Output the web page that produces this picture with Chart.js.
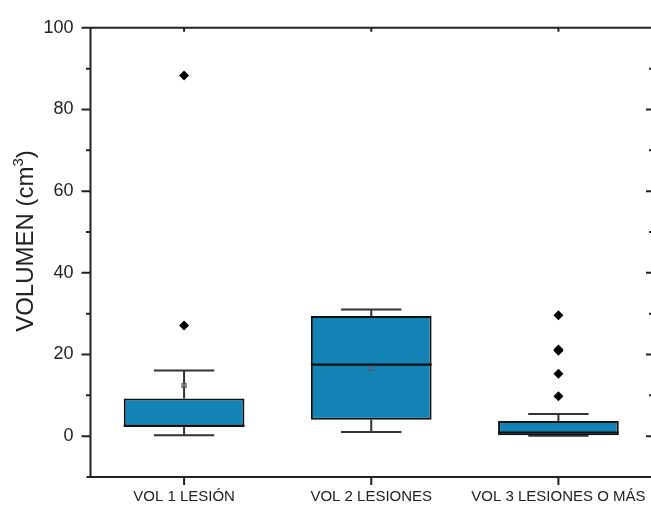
<!DOCTYPE html>
<html>
<head>
<meta charset="utf-8">
<script src="https://cdn.jsdelivr.net/npm/chart.js@4/dist/chart.umd.min.js"></script>
<style>
  html, body { margin: 0; padding: 0; overflow: hidden; background: #fff; }
  canvas { display: block; }
</style>
</head>
<body>
<canvas id="c" width="660" height="509"></canvas>
<script>
// Volume per group (cm³): box-and-whisker statistics
const categories   = ['VOL 1 LESIÓN', 'VOL 2 LESIONES', 'VOL 3 LESIONES O MÁS'];
const q1           = [2.3, 4.0, 0.2];
const q3           = [9.2, 29.4, 3.7];
const medians      = [2.5, 17.5, 0.9];
const whiskerLow   = [0.2, 1.0, 0.1];
const whiskerHigh  = [16.1, 31.0, 5.4];
const means        = [12.4, 16.6, null];
const outliersVol1 = [88.3, 27.1];
const outliersVol2 = [];
const outliersVol3 = [29.6, 21.2, 20.9, 15.3, 9.8];
const yMajorTicks  = [0, 20, 40, 60, 80, 100];
const yMinorTicks  = [10, 30, 50, 70, 90];

const outlierGroups = [outliersVol1, outliersVol2, outliersVol3];
const outlierPoints = [];
outlierGroups.forEach((vals, i) => vals.forEach(v => outlierPoints.push({ x: categories[i], y: v })));
const meanPoints = [];
means.forEach((v, i) => { if (v !== null) meanPoints.push({ x: categories[i], y: v }); });

const FONT = "'Liberation Sans', Arial, sans-serif";
const AXIS = '#222';

// whiskers + caps (under the boxes), medians on top of the boxes
const whiskerPlugin = {
  id: 'whiskers',
  beforeDatasetsDraw(chart) {
    const { ctx, scales: { x, y } } = chart;
    const bars = chart.getDatasetMeta(0).data;
    ctx.save();
    ctx.strokeStyle = '#333';
    ctx.lineWidth = 2;
    categories.forEach((c, i) => {
      const px = x.getPixelForValue(i);
      const half = bars[i].width / 4;
      ctx.beginPath();
      ctx.moveTo(px, y.getPixelForValue(q1[i]));
      ctx.lineTo(px, y.getPixelForValue(whiskerLow[i]));
      ctx.moveTo(px, y.getPixelForValue(q3[i]));
      ctx.lineTo(px, y.getPixelForValue(whiskerHigh[i]));
      [whiskerLow[i], whiskerHigh[i]].forEach(v => {
        const py = y.getPixelForValue(v);
        ctx.moveTo(px - half, py);
        ctx.lineTo(px + half, py);
      });
      ctx.stroke();
    });
    ctx.restore();
  },
  afterDatasetDraw(chart, args) {
    if (args.index !== 0) return;
    const { ctx, scales: { x, y } } = chart;
    const bars = chart.getDatasetMeta(0).data;
    ctx.save();
    ctx.strokeStyle = '#111';
    ctx.lineWidth = 2.2;
    categories.forEach((c, i) => {
      const px = x.getPixelForValue(i);
      const half = bars[i].width / 2;
      const py = y.getPixelForValue(medians[i]);
      ctx.beginPath();
      ctx.moveTo(px - half, py);
      ctx.lineTo(px + half, py);
      ctx.stroke();
    });
    ctx.restore();
  }
};

// frame on four sides with tick marks, plus the rotated y title
const framePlugin = {
  id: 'frame',
  afterDraw(chart) {
    const { ctx, chartArea: a, scales: { x, y } } = chart;
    ctx.save();
    ctx.strokeStyle = AXIS;
    ctx.lineWidth = 2;
    ctx.beginPath();
    ctx.moveTo(a.left - 9, a.top); ctx.lineTo(a.right, a.top);
    ctx.moveTo(a.left, a.top); ctx.lineTo(a.left, a.bottom);
    ctx.moveTo(a.left - 4, a.bottom); ctx.lineTo(a.right, a.bottom);
    ctx.moveTo(a.right, a.top); ctx.lineTo(a.right, a.bottom);
    yMajorTicks.forEach(v => {
      const py = y.getPixelForValue(v);
      ctx.moveTo(a.left - 9, py); ctx.lineTo(a.left, py);
      ctx.moveTo(a.right - 6, py); ctx.lineTo(a.right, py);
    });
    yMinorTicks.forEach(v => {
      const py = y.getPixelForValue(v);
      ctx.moveTo(a.left - 4.5, py); ctx.lineTo(a.left, py);
      ctx.moveTo(a.right - 3, py); ctx.lineTo(a.right, py);
    });
    categories.forEach((c, i) => {
      const px = x.getPixelForValue(i);
      ctx.moveTo(px, a.bottom); ctx.lineTo(px, a.bottom + 8);
      ctx.moveTo(px, a.top); ctx.lineTo(px, a.top + 4);
    });
    ctx.stroke();

    // y axis title: VOLUMEN (cm³)
    const big = '24px ' + FONT, small = '15px ' + FONT;
    const p1 = 'VOLUMEN (cm', p2 = '3', p3 = ')';
    ctx.font = big; const w1 = ctx.measureText(p1).width, w3 = ctx.measureText(p3).width;
    ctx.font = small; const w2 = ctx.measureText(p2).width;
    const total = w1 + w2 + w3;
    ctx.translate(24, 241);
    ctx.rotate(-Math.PI / 2);
    ctx.fillStyle = AXIS;
    ctx.textBaseline = 'alphabetic';
    ctx.textAlign = 'left';
    let sx = -total / 2;
    const base = 8.5;
    ctx.font = big; ctx.fillText(p1, sx, base); sx += w1;
    ctx.font = small; ctx.fillText(p2, sx, base - 9.5); sx += w2;
    ctx.font = big; ctx.fillText(p3, sx, base);
    ctx.restore();
  }
};

new Chart(document.getElementById('c'), {
  data: {
    labels: categories,
    datasets: [
      {
        type: 'bar',
        order: 3,
        data: categories.map((c, i) => [q1[i], q3[i]]),
        backgroundColor: '#1382B4',
        borderColor: '#111',
        borderWidth: 2,
        borderSkipped: false,
        barPercentage: 1,
        categoryPercentage: 0.645
      },
      {
        type: 'line',
        order: 1,
        data: outlierPoints,
        showLine: false,
        pointStyle: 'rectRot',
        pointRadius: 5,
        pointBackgroundColor: '#000',
        pointBorderColor: '#000',
        pointBorderWidth: 0
      },
      {
        type: 'line',
        order: 0,
        data: meanPoints,
        showLine: false,
        pointStyle: 'rect',
        pointRadius: 3,
        pointBackgroundColor: ['rgba(140,140,140,0.5)', 'rgba(0,0,0,0)'],
        pointBorderColor: '#555',
        pointBorderWidth: 1
      }
    ]
  },
  options: {
    responsive: false,
    animation: false,
    layout: { padding: { left: 0, top: 21, right: 8, bottom: 0 } },
    plugins: { legend: { display: false }, tooltip: { enabled: false } },
    scales: {
      x: {
        type: 'category',
        offset: true,
        grid: { display: false, drawTicks: false },
        border: { display: false },
        ticks: { color: AXIS, font: { family: FONT, size: 15 }, padding: 11, maxRotation: 0, autoSkip: false },
        afterFit(s) { s.height = 32; }
      },
      y: {
        type: 'linear',
        min: -10,
        max: 100,
        grid: { display: false, drawTicks: false },
        border: { display: false },
        ticks: { color: AXIS, font: { family: FONT, size: 18 }, padding: 17 },
        afterBuildTicks(s) { s.ticks = yMajorTicks.map(v => ({ value: v })); },
        afterFit(s) { s.width = 90.5; }
      }
    }
  },
  plugins: [whiskerPlugin, framePlugin]
});
</script>
</body>
</html>
